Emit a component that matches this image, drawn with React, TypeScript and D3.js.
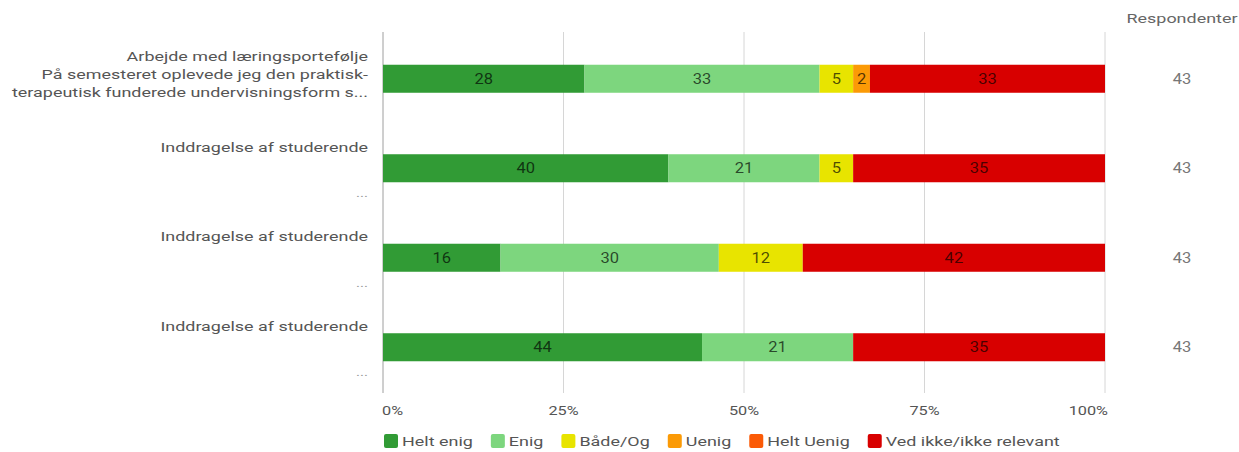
import React from "react";
import * as d3 from "d3";

const categories = ["Helt enig", "Enig", "Både/Og", "Uenig", "Helt Uenig", "Ved ikke/ikke relevant"];
const colors = ["#319b35", "#7dd67e", "#e8e400", "#fb9a06", "#fb5a06", "#d80000"];

const rowLabels: string[][] = [
  ["Arbejde med læringsportefølje", "På semesteret oplevede jeg den praktisk-", "terapeutisk funderede undervisningsform s..."],
  ["Inddragelse af studerende", "..."],
  ["Inddragelse af studerende", "..."],
  ["Inddragelse af studerende", "..."],
];

// respondent counts per category (Helt enig, Enig, Både/Og, Uenig, Helt Uenig, Ved ikke)
const row1 = [12, 14, 2, 1, 0, 14];
const row2 = [17, 9, 2, 0, 0, 15];
const row3 = [7, 13, 5, 0, 0, 18];
const row4 = [19, 9, 0, 0, 0, 15];
const rowsData = [row1, row2, row3, row4];
const respondents = [43, 43, 43, 43];
const xTicks = [0, 0.25, 0.5, 0.75, 1];

const W = 1239;
const H = 452;
const FONT = "Roboto, Arial, sans-serif";
const SX = 1.38;

function measure(text: string, size: number) {
  const c = document.createElement("canvas").getContext("2d");
  if (!c) return text.length * size * 0.5;
  c.font = `${size}px Roboto`;
  return c.measureText(text).width;
}

type STextProps = {
  x: number;
  y: number;
  anchor?: "start" | "middle" | "end";
  size?: number;
  fill?: string;
  sx?: number;
  opacity?: number;
  children: React.ReactNode;
};

function SText({ x, y, anchor = "start", size = 13, fill = "#555", sx = SX, opacity = 1, children }: STextProps) {
  return (
    <g transform={`translate(${x},${y}) scale(${sx},1)`}>
      <text x={0} y={0} dy="0.35em" textAnchor={anchor} fontSize={size} fill={fill} fillOpacity={opacity}>
        {children}
      </text>
    </g>
  );
}

export default function App() {
  const x = d3.scaleLinear().domain([0, 1]).range([383, 1105]);
  const y = d3
    .scaleBand<number>()
    .domain(d3.range(rowsData.length))
    .range([34, 392])
    .paddingInner(0.687)
    .paddingOuter(0.3435);

  const stack = d3
    .stack<number[], number>()
    .keys(d3.range(categories.length))
    .value((d, k) => d[k] / d3.sum(d));
  const series = stack(rowsData);

  // legend layout
  const legendItems: { x: number; label: string; color: string }[] = [];
  let lx = 384;
  categories.forEach((c, i) => {
    legendItems.push({ x: lx, label: c, color: colors[i] });
    lx += 14 + 4 + measure(c, 13) * SX + 18;
  });

  return (
    <svg width={W} height={H} style={{ position: "absolute", left: 0, top: 0, fontFamily: FONT }}>
      <rect width={W} height={H} fill="#fff" />
      {/* gridlines */}
      {xTicks.map((t) => (
        <line key={t} x1={x(t)} x2={x(t)} y1={32} y2={393} stroke={t === 0 ? "#9e9e9e" : "#d6d6d6"} strokeWidth={1} />
      ))}
      {/* bars */}
      {series.map((s, si) =>
        s.map((d, ri) => {
          const w = x(d[1]) - x(d[0]);
          if (w <= 0) return null;
          return (
            <rect key={`${si}-${ri}`} x={x(d[0])} y={y(ri)!} width={w} height={y.bandwidth()} fill={colors[si]} />
          );
        })
      )}
      {/* bar labels */}
      {series.map((s, si) =>
        s.map((d, ri) => {
          const v = d[1] - d[0];
          if (v <= 0) return null;
          return (
            <SText
              key={`t${si}-${ri}`}
              x={(x(d[0]) + x(d[1])) / 2}
              y={y(ri)! + y.bandwidth() / 2}
              anchor="middle"
              size={14}
              fill="#000"
              opacity={0.68}
              sx={1.18}
            >
              {Math.round(v * 100)}
            </SText>
          );
        })
      )}
      {/* row labels */}
      {rowLabels.map((lines, ri) => {
        const cy = y(ri)! + y.bandwidth() / 2;
        if (lines.length === 3) {
          return lines.map((l, li) => (
            <SText key={`r${ri}-${li}`} x={368} y={cy - 22 + li * 18} anchor="end" size={13} fill="#555">
              {l}
            </SText>
          ));
        }
        return [
          <SText key={`r${ri}-0`} x={368} y={cy - 21} anchor="end" size={13} fill="#555">
            {lines[0]}
          </SText>,
          <SText key={`r${ri}-1`} x={368} y={cy + 25} anchor="end" size={11} fill="#999">
            {lines[1]}
          </SText>,
        ];
      })}
      {/* x tick labels */}
      {xTicks.map((t, i) => (
        <SText
          key={`xt${t}`}
          x={i === 0 ? x(t) - 1 : i === xTicks.length - 1 ? x(t) + 3 : x(t)}
          y={410}
          anchor={i === 0 ? "start" : i === xTicks.length - 1 ? "end" : "middle"}
          size={13}
          fill="#555"
          sx={1.25}
        >
          {`${Math.round(t * 100)}%`}
        </SText>
      ))}
      {/* respondents */}
      <SText x={1182} y={18} anchor="middle" size={13} fill="#666">
        Respondenter
      </SText>
      {respondents.map((r, ri) => (
        <SText key={`n${ri}`} x={1182} y={y(ri)! + y.bandwidth() / 2} anchor="middle" size={14} fill="#777" sx={1.18}>
          {r}
        </SText>
      ))}
      {/* legend */}
      {legendItems.map((it) => (
        <g key={it.label}>
          <rect x={it.x} y={434} width={14} height={14} rx={2} fill={it.color} />
          <SText x={it.x + 18} y={441} size={13} fill="#555">
            {it.label}
          </SText>
        </g>
      ))}
    </svg>
  );
}
